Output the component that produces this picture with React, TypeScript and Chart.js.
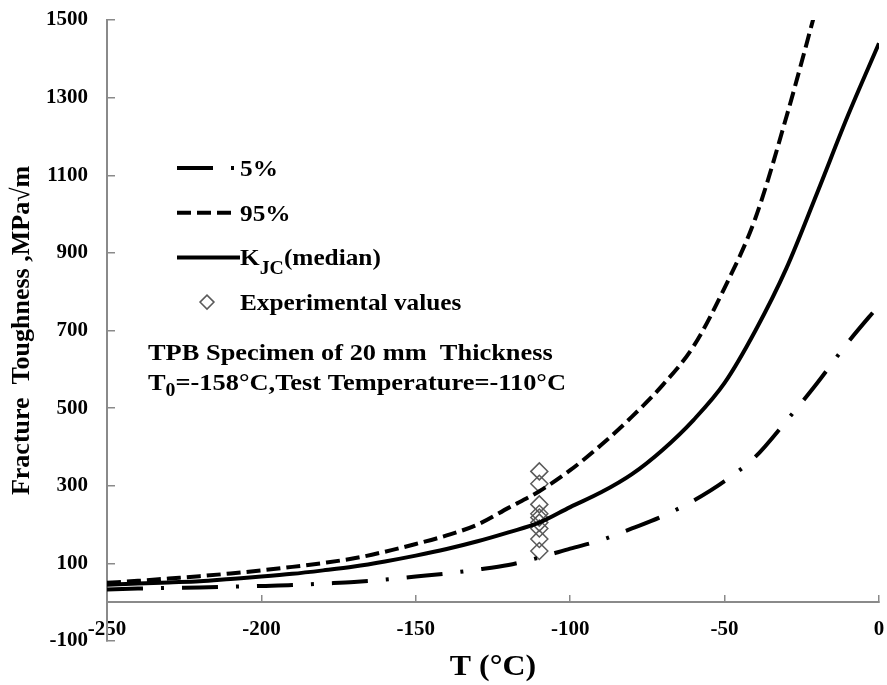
import React, { useEffect, useRef } from "react";
import { Chart, registerables } from "chart.js";

Chart.register(...registerables);

// ---- data ----
const temperatures = [-250, -240, -230, -220, -210, -200, -190, -180, -170, -160, -150, -140, -130, -120, -110, -100, -90, -80, -70, -60, -50, -40, -30, -20, -10, 0];
const k5 = [33, 35, 37, 38, 40, 42, 44, 48, 52, 58, 66, 74, 84, 96, 115, 138, 160, 190, 222, 262, 312, 375, 467, 565, 670, 765];
const kMedian = [45, 48, 51, 54, 60, 66, 73, 82, 92, 105, 120, 137, 157, 180, 205, 245, 283, 330, 393, 470, 565, 700, 860, 1055, 1255, 1440];
const k95Temps = [-250, -240, -230, -220, -210, -200, -190, -180, -170, -160, -150, -140, -130, -120, -110, -100, -90, -80, -70, -60, -50, -40, -30, -20];
const k95 = [50, 55, 61, 67, 74, 82, 91, 101, 113, 130, 150, 172, 200, 243, 286, 340, 405, 478, 560, 660, 810, 990, 1250, 1540];
const expTemps = [-110, -110, -110, -110, -110, -110, -110, -110, -110];
const expValues = [337, 305, 252, 228, 218, 205, 190, 163, 132];

const xTicks = [-250, -200, -150, -100, -50, 0];
const yTicks = [-100, 100, 300, 500, 700, 900, 1100, 1300, 1500];

const seriesLabels = ["5%", "95%", "KJC(median)", "Experimental values"];
const legendParts = [
  [{ t: "5%" }],
  [{ t: "95%" }],
  [{ t: "K" }, { t: "JC", sub: true }, { t: "(median)" }],
  [{ t: "Experimental values" }],
];
const noteLine1 = [{ t: "TPB Specimen of 20 mm  Thickness" }];
const noteLine2 = [{ t: "T" }, { t: "0", sub: true }, { t: "=-158°C,Test Temperature=-110°C" }];
const xTitle = "T (°C)";
const yTitle = "Fracture  Toughness ,MPa√m";

const FONT = "'Liberation Serif', 'Times New Roman', serif";
const AXIS_GRAY = "#8a8a8a";

function drawParts(
  ctx: CanvasRenderingContext2D,
  parts: any[],
  x: number,
  y: number,
  size: number,
  subSize: number,
  subShift: number,
  stretch: number
) {
  ctx.save();
  ctx.translate(x, y);
  ctx.scale(stretch, 1);
  let cx = 0;
  parts.forEach((p) => {
    if (p.sub) {
      ctx.font = `bold ${subSize}px ${FONT}`;
      ctx.fillText(p.t, cx, subShift);
    } else {
      ctx.font = `bold ${size}px ${FONT}`;
      ctx.fillText(p.t, cx, 0);
    }
    cx += ctx.measureText(p.t).width;
  });
  ctx.restore();
}

const overlayPlugin = {
  id: "overlayPlugin",
  afterDatasetsDraw(chart: any) {
    const { ctx, chartArea } = chart;
    ctx.save();
    ctx.fillStyle = "#000";
    ctx.textAlign = "left";
    ctx.textBaseline = "alphabetic";

    // legend
    const sx0 = chartArea.left + 70;
    const sx1 = chartArea.left + 130;
    const tx = chartArea.left + 133;
    chart.data.datasets.forEach((ds: any, i: number) => {
      const y = chartArea.top + 148 + i * 44.7;
      if (ds.showLine === false) {
        const cx = (sx0 + sx1) / 2;
        const r = 7;
        ctx.beginPath();
        ctx.moveTo(cx - r, y);
        ctx.lineTo(cx, y - r);
        ctx.lineTo(cx + r, y);
        ctx.lineTo(cx, y + r);
        ctx.closePath();
        ctx.strokeStyle = ds.pointBorderColor;
        ctx.lineWidth = 1.5;
        ctx.stroke();
      } else {
        ctx.beginPath();
        ctx.setLineDash(ds.borderDash || []);
        ctx.lineDashOffset = 0;
        ctx.moveTo(sx0, y);
        ctx.lineTo(i === 2 ? sx1 + 3 : sx1, y);
        ctx.strokeStyle = ds.borderColor;
        ctx.lineWidth = ds.borderWidth;
        ctx.lineCap = "butt";
        ctx.stroke();
        ctx.setLineDash([]);
      }
      drawParts(ctx, legendParts[i], tx, y + 8, 23, 18, 9, 1.1);
    });

    // annotation
    drawParts(ctx, noteLine1, chartArea.left + 41, chartArea.top + 340, 24, 18, 0, 1.1);
    drawParts(ctx, noteLine2, chartArea.left + 41, chartArea.top + 370, 24, 18, 6, 1.1);

    // x title
    ctx.save();
    ctx.font = `bold 29px ${FONT}`;
    ctx.textAlign = "center";
    ctx.textBaseline = "middle";
    ctx.translate((chartArea.left + chartArea.right) / 2, chartArea.bottom + 27);
    ctx.scale(1.1, 1);
    ctx.fillText(xTitle, 0, 0);
    ctx.restore();
    ctx.restore();
  },
};

const clearPadding = (s: any) => {
  s.paddingTop = 0;
  s.paddingBottom = 0;
  s.paddingLeft = 0;
  s.paddingRight = 0;
};

export default function App() {
  const canvasRef = useRef<HTMLCanvasElement | null>(null);

  useEffect(() => {
    const canvas = canvasRef.current;
    if (!canvas) return;
    const line = (xs: number[], ys: number[]) => xs.map((x, i) => ({ x, y: ys[i] }));
    const chart = new Chart(canvas, {
      type: "line",
      data: {
        datasets: [
          {
            label: seriesLabels[0],
            data: line(temperatures, k5),
            borderColor: "#000",
            borderWidth: 4,
            borderDash: [36, 18, 3, 18],
            pointRadius: 0,
            cubicInterpolationMode: "monotone",
            fill: false,
          },
          {
            label: seriesLabels[1],
            data: line(k95Temps, k95),
            borderColor: "#000",
            borderWidth: 4,
            borderDash: [14, 6],
            pointRadius: 0,
            cubicInterpolationMode: "monotone",
            fill: false,
          },
          {
            label: seriesLabels[2],
            data: line(temperatures, kMedian),
            borderColor: "#000",
            borderWidth: 4,
            pointRadius: 0,
            cubicInterpolationMode: "monotone",
            fill: false,
          },
          {
            label: seriesLabels[3],
            data: line(expTemps, expValues),
            showLine: false,
            pointStyle: "rectRot",
            pointRadius: 8.5,
            pointBorderWidth: 1.5,
            pointBorderColor: "#5a5a5a",
            pointBackgroundColor: "rgba(0,0,0,0)",
            borderColor: "#5a5a5a",
          },
        ],
      },
      options: {
        animation: false,
        responsive: false,
        devicePixelRatio: 1,
        layout: { autoPadding: false, padding: { top: 20, right: 8, left: 0, bottom: 44 } },
        plugins: { legend: { display: false }, tooltip: { enabled: false } },
        scales: {
          x: {
            type: "linear",
            position: { y: 0 } as any,
            min: -250,
            max: 0,
            afterBuildTicks: (s: any) => {
              s.ticks = xTicks.map((v) => ({ value: v }));
            },
            afterFit: (s: any) => {
              s.height = 44;
              clearPadding(s);
            },
            border: { display: true, color: AXIS_GRAY, width: 2 },
            grid: { display: true, drawOnChartArea: false, drawTicks: true, tickLength: -8, color: AXIS_GRAY, lineWidth: 1.5 },
            ticks: {
              autoSkip: false,
              maxRotation: 0,
              padding: 23,
              color: "#000",
              callback: (v: any) => String(v),
              font: { family: FONT, size: 21, weight: "bold" },
            },
          },
          y: {
            type: "linear",
            position: "left",
            min: -100,
            max: 1500,
            afterBuildTicks: (s: any) => {
              s.ticks = yTicks.map((v) => ({ value: v }));
            },
            afterFit: (s: any) => {
              s.width = 107;
              clearPadding(s);
            },
            border: { display: true, color: AXIS_GRAY, width: 2 },
            grid: { display: true, drawOnChartArea: false, drawTicks: true, tickLength: -8, color: AXIS_GRAY, lineWidth: 1.5 },
            ticks: {
              autoSkip: false,
              padding: 27,
              color: "#000",
              callback: (v: any) => String(v),
              font: { family: FONT, size: 21, weight: "bold" },
            },
            title: {
              display: true,
              text: yTitle,
              color: "#000",
              padding: { top: 7, bottom: 4 },
              font: { family: FONT, size: 26, weight: "bold" },
            },
          },
        },
      },
      plugins: [overlayPlugin],
    } as any);
    return () => chart.destroy();
  }, []);

  return (
    <div style={{ position: "absolute", left: 0, top: 0, width: 887, height: 685, background: "#fff" }}>
      <canvas ref={canvasRef} width={887} height={685} style={{ width: 887, height: 685, display: "block" }} />
    </div>
  );
}
